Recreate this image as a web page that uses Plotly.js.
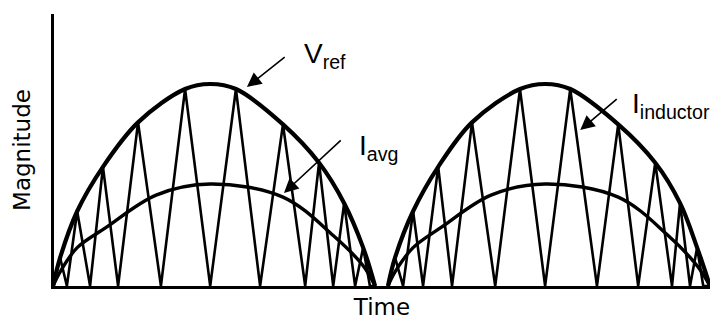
<!DOCTYPE html>
<html>
<head>
<meta charset="utf-8">
<script src="https://cdn.plot.ly/plotly-3.0.1.min.js"></script>
<style>html,body{margin:0;padding:0;background:#fff;}#chart{width:710px;height:320px;}</style>
</head>
<body>
<div id="chart"></div>
<script>
// Time (ms-like units) and magnitude values
const inductorTime = [0, 0.22, 0.43, 0.75, 1.15, 1.55, 2.02, 2.64, 3.35, 4.10, 4.88, 5.68, 6.43, 7.14, 7.83, 8.26, 8.70, 9.04, 9.38, 9.63, 9.84, 10.0,
  null,
  10.40, 10.62, 10.87, 11.18, 11.49, 11.96, 12.39, 13.01, 13.73, 14.50, 15.28, 16.06, 16.89, 17.55, 18.17, 18.70, 19.22, 19.47, 19.78, 20.00, 20.19, 20.40];
const inductorValue = [0, 0.14, 0, 0.37, 0, 0.59, 0, 0.81, 0, 0.975, 0, 0.975, 0, 0.80, 0, 0.61, 0, 0.41, 0, 0.19, 0, 0,
  null,
  0, 0.14, 0, 0.37, 0, 0.59, 0, 0.81, 0, 0.975, 0, 0.975, 0, 0.80, 0, 0.61, 0, 0.41, 0, 0.19, 0, 0];

const vrefTime = [0, 0.22, 0.75, 1.55, 2.64, 4.10, 4.88, 5.68, 7.14, 8.26, 9.04, 9.63, 10.0,
  null,
  10.40, 10.62, 11.18, 11.96, 13.01, 14.50, 15.28, 16.06, 17.55, 18.70, 19.47, 20.00, 20.40];
const vrefValue = [0, 0.14, 0.37, 0.59, 0.81, 0.975, 1.0, 0.975, 0.80, 0.61, 0.41, 0.19, 0,
  null,
  0, 0.14, 0.37, 0.59, 0.81, 0.975, 1.0, 0.975, 0.80, 0.61, 0.41, 0.19, 0];

const iavgTime = [0, 0.22, 0.75, 1.65, 3.20, 4.88, 7.14, 8.70, 9.63, 10.0,
  null,
  10.40, 10.62, 11.18, 12.05, 13.60, 15.28, 17.55, 19.10, 20.00, 20.40];
const iavgValue = [0, 0.07, 0.19, 0.29, 0.45, 0.505, 0.44, 0.25, 0.10, 0,
  null,
  0, 0.07, 0.19, 0.29, 0.45, 0.505, 0.44, 0.25, 0.10, 0];

const labelVref = 'V<sub>ref</sub>';
const labelIavg = 'I<sub>avg</sub>';
const labelInd = 'I<sub>inductor</sub>';
const xTitle = 'Time';
const yTitle = 'Magnitude';

const traces = [
  {x: inductorTime, y: inductorValue, type: 'scatter', mode: 'lines', connectgaps: false,
   line: {color: '#000', width: 2.6}, hoverinfo: 'skip'},
  {x: iavgTime, y: iavgValue, type: 'scatter', mode: 'lines', connectgaps: false,
   line: {color: '#000', width: 3.4, shape: 'spline', smoothing: 1}, hoverinfo: 'skip'},
  {x: vrefTime, y: vrefValue, type: 'scatter', mode: 'lines', connectgaps: false,
   line: {color: '#000', width: 4.2, shape: 'spline', smoothing: 1}, hoverinfo: 'skip'}
];

const labelFont = {family: 'Liberation Sans, Arial, sans-serif', size: 28, color: '#000'};
const titleFont = {family: '"DejaVu Sans", Verdana, sans-serif', size: 23, color: '#000'};
function arrow(x, y, ax, ay) {
  return {x: x, y: y, ax: ax, ay: ay, xref: 'x', yref: 'y', axref: 'x', ayref: 'y',
    text: '', showarrow: true, arrowhead: 2, arrowsize: 1.8, arrowwidth: 1.6, arrowcolor: '#000', standoff: 0};
}
const layout = {
  width: 710, height: 320,
  margin: {l: 54, r: 0, t: 14, b: 34},
  paper_bgcolor: '#fff', plot_bgcolor: '#fff',
  showlegend: false,
  xaxis: {range: [0.03, 20.40], showgrid: false, zeroline: false, showticklabels: false, ticks: '',
    showline: true, linecolor: '#000', linewidth: 3,
    title: {text: xTitle, font: titleFont, standoff: 12}},
  yaxis: {range: [0, 1.3465], showgrid: false, zeroline: false, showticklabels: false, ticks: '',
    showline: true, linecolor: '#000', linewidth: 3,
    title: {text: yTitle, font: titleFont, standoff: 14}},
  annotations: [
    arrow(6.02, 0.985, 7.24, 1.139),
    arrow(7.17, 0.46, 8.98, 0.728),
    arrow(16.37, 0.772, 17.55, 0.931),
    {x: 7.73, y: 1.238, xref: 'x', yref: 'y', xanchor: 'left', yanchor: 'top', text: labelVref, showarrow: false, font: labelFont},
    {x: 9.43, y: 0.782, xref: 'x', yref: 'y', xanchor: 'left', yanchor: 'top', text: labelIavg, showarrow: false, font: labelFont},
    {x: 17.92, y: 0.99, xref: 'x', yref: 'y', xanchor: 'left', yanchor: 'top', text: labelInd, showarrow: false, font: labelFont}
  ]
};
Plotly.newPlot('chart', traces, layout, {displayModeBar: false, staticPlot: true});
</script>
</body>
</html>
